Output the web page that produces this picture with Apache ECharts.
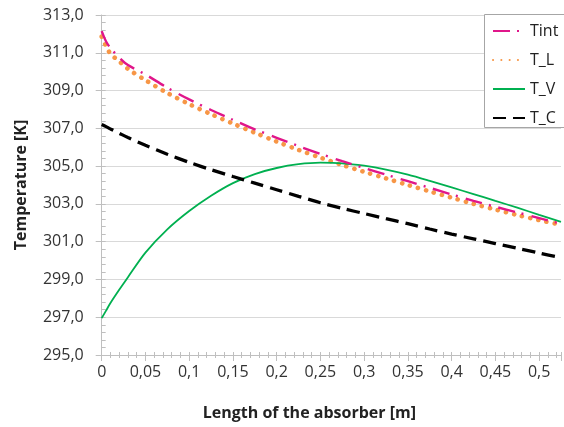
<!DOCTYPE html>
<html>
<head>
<meta charset="utf-8">
<script src="https://cdn.jsdelivr.net/npm/echarts@6/dist/echarts.min.js"></script>
<style>html,body{margin:0;padding:0;background:#fff}#main{width:564px;height:427px}</style>
</head>
<body>
<div id="main"></div>
<script>
// position along the absorber [m]
const lengths = [0, 0.005, 0.01, 0.02, 0.03, 0.05, 0.075, 0.1, 0.125, 0.15, 0.175, 0.2, 0.225, 0.25, 0.275, 0.3, 0.325, 0.35, 0.375, 0.4, 0.425, 0.45, 0.475, 0.5, 0.525];
// temperatures [K]
const tInt = [312.15, 311.6, 311.25, 310.75, 310.35, 309.85, 309.15, 308.53, 307.97, 307.45, 306.95, 306.5, 306.06, 305.65, 305.26, 304.9, 304.55, 304.2, 303.85, 303.5, 303.16, 302.85, 302.55, 302.25, 301.95];
const tL = [311.85, 311.35, 310.95, 310.55, 310.15, 309.55, 308.87, 308.28, 307.75, 307.25, 306.77, 306.3, 305.86, 305.45, 305.06, 304.7, 304.35, 304.0, 303.66, 303.33, 303.0, 302.7, 302.41, 302.14, 301.9];
const tV = [296.95, 297.35, 297.75, 298.45, 299.12, 300.42, 301.65, 302.62, 303.43, 304.1, 304.58, 304.9, 305.1, 305.18, 305.15, 305.02, 304.82, 304.55, 304.22, 303.87, 303.52, 303.16, 302.8, 302.42, 302.05];
const tC = [307.2, 307.09, 306.97, 306.74, 306.51, 306.1, 305.63, 305.2, 304.81, 304.45, 304.1, 303.75, 303.4, 303.06, 302.76, 302.49, 302.22, 301.95, 301.67, 301.4, 301.15, 300.9, 300.65, 300.4, 300.15];

const pairs = arr => lengths.map((x, i) => [x, arr[i]]);
const font = 'Open Sans';
const gray = '#BFBFBF';

const myChart = echarts.init(document.getElementById('main'));
myChart.setOption({
  animation: false,
  grid: { left: 101.7, right: 0, top: 15, bottom: 72 },
  // legend frame is open on the right, like the cropped original
  graphic: [{
    type: 'rect', z: 3, silent: true,
    shape: { x: 484, y: 14, width: 90, height: 114 },
    style: { fill: '#fff' }
  }, {
    type: 'polyline', z: 3, silent: true,
    shape: { points: [[580, 14.5], [484.5, 14.5], [484.5, 127.5], [580, 127.5]] },
    style: { fill: null, stroke: '#A6A6A6', lineWidth: 1 }
  }],
  legend: {
    orient: 'vertical',
    left: 484, top: 14, z: 5,
    padding: [9, 6, 6, 8],
    itemWidth: 32, itemHeight: 14, itemGap: 13,
    itemStyle: { opacity: 0 },
    textStyle: { fontFamily: font, fontSize: 16, color: '#222' },
    data: ['Tint', 'T_L', 'T_V', 'T_C']
  },
  xAxis: [{
    type: 'value', min: 0, max: 0.525, interval: 0.05,
    name: 'Length of the absorber [m]', nameLocation: 'middle', nameGap: 50,
    nameTextStyle: { fontFamily: font, fontSize: 16, fontWeight: 'bold', color: '#222', padding: [0, 44, 0, 0] },
    axisLine: { lineStyle: { color: gray } },
    axisTick: { length: 6, lineStyle: { color: gray } },
    minorTick: { show: true, splitNumber: 5, length: 3, lineStyle: { color: gray } },
    splitLine: { show: false },
    axisLabel: {
      margin: 9, fontFamily: font, fontSize: 16, color: '#333',
      formatter: v => Math.abs(v * 20 - Math.round(v * 20)) < 1e-6 ? String(+v.toFixed(2)).replace('.', ',') : ''
    }
  }, {
    type: 'value', min: 0, max: 0.525, interval: 0.05, position: 'bottom',
    axisLine: { show: false }, axisLabel: { show: false }, splitLine: { show: false },
    axisTick: { show: true, inside: true, length: 3, lineStyle: { color: gray } },
    minorTick: { show: true, splitNumber: 5, length: 3, lineStyle: { color: gray } }
  }],
  yAxis: [{
    type: 'value', min: 295, max: 313, interval: 2,
    name: 'Temperature [K]', nameLocation: 'middle', nameGap: 72,
    nameTextStyle: { fontFamily: font, fontSize: 16, fontWeight: 'bold', color: '#222' },
    axisLine: { show: true, lineStyle: { color: gray } },
    axisTick: { show: true, length: 6, lineStyle: { color: gray } },
    splitLine: { lineStyle: { color: '#D9D9D9' } },
    axisLabel: { margin: 18, fontFamily: font, fontSize: 16, color: '#333', formatter: v => v.toFixed(1).replace('.', ',') }
  }, {
    type: 'value', min: 295, max: 313, interval: 2, position: 'left',
    axisLine: { show: false }, axisLabel: { show: false }, splitLine: { show: false },
    axisTick: { show: true, inside: true, length: 4, lineStyle: { color: gray } },
    minorTick: { show: true, splitNumber: 5, length: 4, lineStyle: { color: gray } }
  }],
  series: [
    { name: 'Tint', type: 'line', data: pairs(tInt), smooth: 0.3, symbol: 'none', z: 4,
      color: '#E0168A', lineStyle: { width: 2.4, type: [17, 7, 2, 8] } },
    { name: 'T_L', type: 'line', data: pairs(tL), smooth: 0.3, symbol: 'none', z: 3,
      color: '#F79646', lineStyle: { width: 4.6, type: [0.1, 8.2], cap: 'round' } },
    { name: 'T_V', type: 'line', data: pairs(tV), smooth: 0.3, symbol: 'none',
      color: '#00B050', lineStyle: { width: 1.8 } },
    { name: 'T_C', type: 'line', data: pairs(tC), smooth: 0.3, symbol: 'none',
      color: '#000', lineStyle: { width: 3.3, type: [13, 7] } }
  ]
});
</script>
</body>
</html>
